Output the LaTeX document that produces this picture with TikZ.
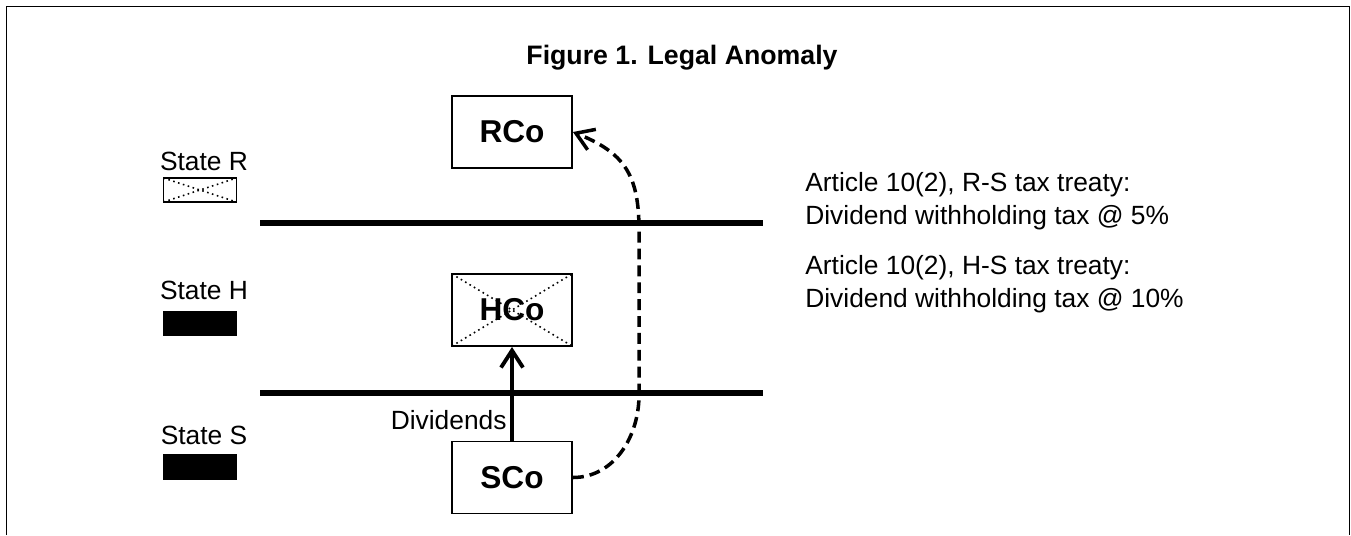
\documentclass[tikz,border=0pt]{standalone}
\usepackage{fontspec}
\setmainfont{Liberation Sans}
\usetikzlibrary{arrows.meta,positioning}
\tikzset{
  company/.style={draw,line width=1.1pt,minimum width=2.4cm,minimum height=1.44cm,
    inner sep=0pt,font=\fontsize{18}{20}\selectfont\bfseries},
  flag/.style={draw,line width=1pt,minimum width=1.46cm,minimum height=0.48cm,inner sep=0pt},
  crossed/.style={path picture={
    \draw[dotted,line width=0.9pt] (path picture bounding box.north west) -- (path picture bounding box.south east)
      (path picture bounding box.south west) -- (path picture bounding box.north east);}},
  statename/.style={font=\fontsize{15}{17}\selectfont},
  treaty/.style={font=\fontsize{15}{18.7}\selectfont,align=left,anchor=west,inner sep=0pt},
  border/.style={line width=3.4pt},
  flow/.style={line width=2.2pt,-{Straight Barb[length=3.4mm,width=4.4mm]}}
}
\begin{document}
\begin{tikzpicture}[x=0.02cm,y=-0.02cm]
\useasboundingbox (0,0) rectangle (1351,535);
\draw[line width=1.1pt] (6.5,535) -- (6.5,6.5) -- (1349.5,6.5) -- (1349.5,535);

\node[font=\fontsize{15.2}{18}\selectfont\bfseries] (title) at (682,58) {Figure 1. Legal Anomaly};

% states
\node[statename] (nameR) at (204,161) {State R};
\node[flag,crossed] (flagR) at (200,190) {};
\node[statename] (nameH) at (204,290) {State H};
\node[flag,fill=black] (flagH) at (200,323.5) {};
\node[statename] (nameS) at (204,435) {State S};
\node[flag,fill=black] (flagS) at (200,467) {};

% borders between states
\coordinate (rhwest) at (260,223);
\coordinate (rheast) at (763,223);
\coordinate (hswest) at (260,393);
\coordinate (hseast) at (763,393);
\draw[border] (rhwest) -- (rheast);
\draw[border] (hswest) -- (hseast);

% companies
\node[company] (RCo) at (512,132) {RCo};
\node[company,crossed] (HCo) at (512,310) {HCo};
\node[company] (SCo) at (512,477.5) {SCo};

\draw[flow] (SCo) -- node[pos=0.22,left,inner sep=2pt,statename] (div) {Dividends} (HCo);
\draw[flow,dash pattern=on 6.2pt off 3.4pt,line width=2pt]
  (SCo.east) to[out=0,in=-90] (639,395) -- (639,230) to[out=90,in=-22,looseness=1.2] (RCo.east);

% treaty rates
\node[treaty] (rstreaty) at (805,201) {Article 10(2), R-S tax treaty:\\Dividend withholding tax @ 5\%};
\node[treaty] (hstreaty) at (805,284) {Article 10(2), H-S tax treaty:\\Dividend withholding tax @ 10\%};
\end{tikzpicture}
\end{document}
